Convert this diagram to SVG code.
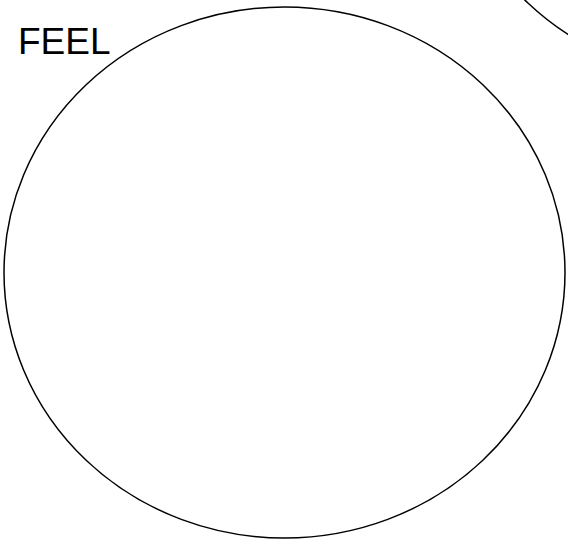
<svg xmlns="http://www.w3.org/2000/svg" width="568" height="541" viewBox="0 0 568 541">
<style>
.c{fill:none;stroke:#000;stroke-width:1.5}
.t{font-family:"Liberation Sans",Arial,sans-serif;font-size:37px;fill:#000}
</style>
<rect width="568" height="541" fill="#fff"/>
<g id="feel">
<ellipse class="c" cx="284.5" cy="272.5" rx="280.5" ry="265.5"/>
<text class="t" x="18" y="54">FEEL</text>
</g>
<g id="other">
<ellipse class="c" cx="726" cy="-185" rx="280.5" ry="265.5"/>
</g>
<g id="connectors"/>
</svg>
